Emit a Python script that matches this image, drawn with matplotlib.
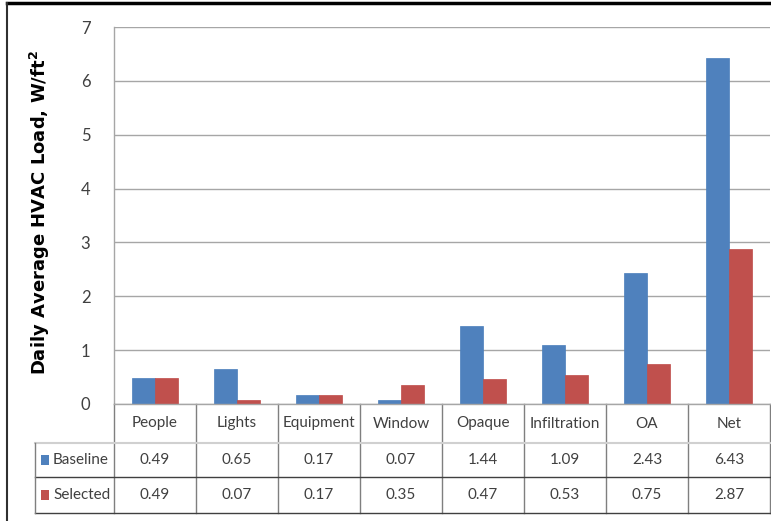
import matplotlib
matplotlib.use("Agg")
import matplotlib.pyplot as plt
from matplotlib.transforms import blended_transform_factory
from matplotlib.lines import Line2D
from matplotlib.patches import Rectangle
import numpy as np

categories = ["People", "Lights", "Equipment", "Window", "Opaque", "Infiltration", "OA", "Net"]
baseline = [0.49, 0.65, 0.17, 0.07, 1.44, 1.09, 2.43, 6.43]
selected = [0.49, 0.07, 0.17, 0.35, 0.47, 0.53, 0.75, 2.87]
series_names = ["Baseline", "Selected"]
y_ticks = [0, 1, 2, 3, 4, 5, 6, 7]

BLUE = "#4F81BD"
RED = "#C0504D"
GRID = "#A6A6A6"
TXT = "#404040"
FS = 11

W, H = 771, 521
fig = plt.figure(figsize=(W / 100, H / 100), dpi=100)

def fy(py):
    return 1 - py / H

def fx(px):
    return px / W

ax_left, ax_right, ax_top, ax_bot = 114, 770, 27, 404
ax = fig.add_axes([fx(ax_left), fy(ax_bot), fx(ax_right) - fx(ax_left), fy(ax_top) - fy(ax_bot)])

x = np.arange(len(categories))
bw = 0.28
ax.bar(x - bw / 2, baseline, bw, color=BLUE, edgecolor="#4A7EBB", linewidth=0.5, zorder=3)
ax.bar(x + bw / 2, selected, bw, color=RED, edgecolor="#BE4B48", linewidth=0.5, zorder=3)

ax.set_xlim(-0.5, len(categories) - 0.5)
ax.set_ylim(0, 7)
ax.set_yticks(y_ticks)
ax.set_yticklabels([str(t) for t in y_ticks], fontfamily="Lato", fontsize=FS + 1, color=TXT)
ax.tick_params(axis="y", length=0, pad=17)
ax.set_xticks([])
ax.grid(axis="y", color=GRID, linewidth=1.0, zorder=0)
for s in ["top", "right", "bottom"]:
    ax.spines[s].set_visible(False)
ax.spines["left"].set_color(GRID)
ax.spines["left"].set_linewidth(1.0)

fig.text(fx(40), fy(213), "Daily Average HVAC Load, W/ft$^\\mathbf{2}$", rotation=90,
         ha="center", va="center", fontfamily="DejaVu Sans", fontweight="bold",
         fontsize=13, color="black")

# table
tr = blended_transform_factory(ax.transData, fig.transFigure)
r0, r1, r2, r3 = 404, 443, 477, 513
leg_left = 35
LINE_D = "#7F7F7F"
LINE_L = "#D0D0D0"

for b in np.arange(-0.5, len(categories), 1.0):
    fig.add_artist(Line2D([b, b], [fy(r0), fy(r3)], transform=tr, color=LINE_D, linewidth=1.0))
fig.add_artist(Line2D([fx(ax_left), fx(ax_right)], [fy(r0), fy(r0)], transform=fig.transFigure,
                      color=GRID, linewidth=1.0))
fig.add_artist(Line2D([fx(leg_left), fx(ax_right)], [fy(r1), fy(r1)], transform=fig.transFigure,
                      color=LINE_L, linewidth=1.5))
fig.add_artist(Line2D([fx(leg_left), fx(ax_right)], [fy(r2), fy(r2)], transform=fig.transFigure,
                      color="#404040", linewidth=1.0))
fig.add_artist(Line2D([fx(leg_left), fx(ax_right)], [fy(r3), fy(r3)], transform=fig.transFigure,
                      color="#404040", linewidth=1.0))
fig.add_artist(Line2D([fx(leg_left), fx(leg_left)], [fy(r1), fy(r3)], transform=fig.transFigure,
                      color=LINE_D, linewidth=1.0))

for i, c in enumerate(categories):
    fig.text(i, fy((r0 + r1) / 2), c, transform=tr, ha="center", va="center",
             fontfamily="Lato", fontsize=FS, color=TXT)
    fig.text(i, fy((r1 + r2) / 2), f"{baseline[i]:.2f}", transform=tr, ha="center", va="center",
             fontfamily="Lato", fontsize=FS, color=TXT)
    fig.text(i, fy((r2 + r3) / 2), f"{selected[i]:.2f}", transform=tr, ha="center", va="center",
             fontfamily="Lato", fontsize=FS, color=TXT)

for name, col, (ra, rb) in zip(series_names, [BLUE, RED], [(r1, r2), (r2, r3)]):
    cy = (ra + rb) / 2
    fig.add_artist(Rectangle((fx(41), fy(cy + 5)), fx(8), fy(0) - fy(10), transform=fig.transFigure,
                             facecolor=col, edgecolor="none"))
    fig.text(fx(53), fy(cy), name, ha="left", va="center", fontfamily="Lato", fontsize=FS, color=TXT)

fig.add_artist(Line2D([fx(7), 1], [fy(2.5), fy(2.5)], transform=fig.transFigure, color="black", linewidth=2.5))
fig.add_artist(Line2D([fx(7), fx(7)], [fy(2.5), 0], transform=fig.transFigure, color="#303030", linewidth=1.5))

fig.savefig("out.png", dpi=100)
